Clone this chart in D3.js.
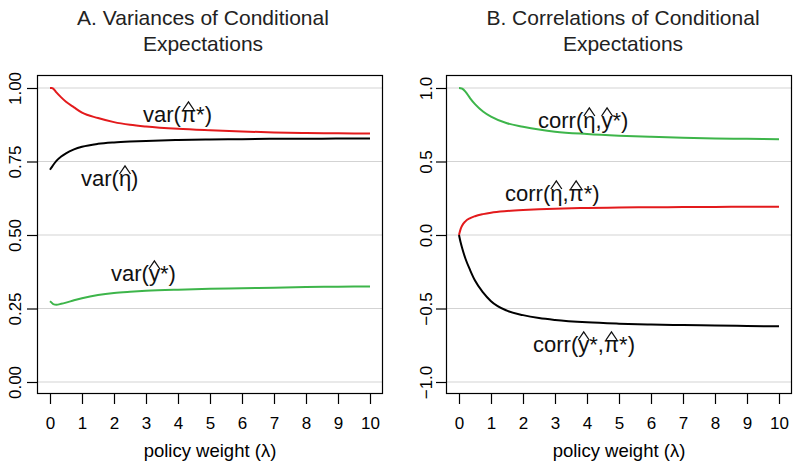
<!DOCTYPE html>
<html>
<head>
<meta charset="utf-8">
<script src="https://cdn.jsdelivr.net/npm/d3@7"></script>
<style>
  body { margin: 0; background: #fff; }
  svg { font-family: "Liberation Sans", Arial, Helvetica, sans-serif; }
</style>
</head>
<body>
<svg width="793" height="466"></svg>
<script>
// policy weight (lambda) grid where the curves were read
var lambda = [0, 0.05, 0.1, 0.2, 0.35, 0.5, 0.75, 1, 1.5, 2, 2.5, 3, 4, 5, 6, 7, 8, 9, 10];

// Panel A: variances
var varPi  = [1.0, 1.0, 0.998, 0.985, 0.968, 0.953, 0.934, 0.916, 0.898, 0.884, 0.875, 0.869, 0.861, 0.856, 0.852, 0.849, 0.847, 0.846, 0.845];
var varEta = [0.722, 0.730, 0.738, 0.752, 0.767, 0.778, 0.791, 0.800, 0.810, 0.815, 0.818, 0.820, 0.823, 0.825, 0.826, 0.827, 0.827, 0.828, 0.828];
var varY   = [0.275, 0.270, 0.265, 0.263, 0.266, 0.270, 0.278, 0.285, 0.296, 0.303, 0.307, 0.310, 0.314, 0.317, 0.319, 0.321, 0.323, 0.324, 0.325];

// Panel B: correlations
var corrEtaY  = [1.0, 0.999, 0.995, 0.975, 0.930, 0.890, 0.840, 0.805, 0.760, 0.737, 0.718, 0.703, 0.687, 0.676, 0.668, 0.662, 0.657, 0.654, 0.651];
var corrEtaPi = [0, 0.040, 0.065, 0.093, 0.115, 0.128, 0.142, 0.152, 0.163, 0.170, 0.175, 0.179, 0.184, 0.187, 0.189, 0.190, 0.191, 0.192, 0.193];
var corrYPi   = [0, -0.05, -0.09, -0.16, -0.24, -0.31, -0.39, -0.45, -0.515, -0.545, -0.565, -0.578, -0.594, -0.603, -0.609, -0.613, -0.616, -0.619, -0.621];

var xTicks = [0, 1, 2, 3, 4, 5, 6, 7, 8, 9, 10];
var yTicksA = [0, 0.25, 0.5, 0.75, 1];
var yTickLabelsA = ["0.00", "0.25", "0.50", "0.75", "1.00"];
var yTicksB = [-1, -0.5, 0, 0.5, 1];
var yTickLabelsB = ["\u22121.0", "\u22120.5", "0.0", "0.5", "1.0"];

var RED = "#e31a1c", GREEN = "#3db54a", BLACK = "#000";

var svg = d3.select("svg");

function panel(opt) {
  var x = d3.scaleLinear().domain([0, 10]).range([opt.x0, opt.x0 + 320]);
  var y = d3.scaleLinear().domain(opt.yDomain).range([382, 88]);
  var g = svg.append("g");

  // grid
  g.selectAll("line.grid").data(opt.yTicks).enter().append("line")
    .attr("x1", opt.boxL).attr("x2", opt.boxL + 346)
    .attr("y1", function(d) { return y(d); }).attr("y2", function(d) { return y(d); })
    .attr("stroke", "#d3d3d3").attr("stroke-width", 1);

  // box
  g.append("rect").attr("x", opt.boxL + 0.5).attr("y", 75.5)
    .attr("width", 345).attr("height", 318)
    .attr("fill", "none").attr("stroke", "#000").attr("stroke-width", 1.2);

  // x axis
  var xa = g.append("g").attr("transform", "translate(0,394)")
    .call(d3.axisBottom(x).tickValues(xTicks).tickSize(10).tickPadding(6).tickFormat(d3.format("d")));
  xa.select(".domain").remove();
  xa.selectAll("line").attr("stroke-width", 1.2);
  xa.selectAll("text").attr("font-size", 17).attr("font-family", null).attr("dy", null).attr("y", 35);

  // y axis
  var ya = g.append("g").attr("transform", "translate(" + opt.boxL + ",0)")
    .call(d3.axisLeft(y).tickValues(opt.yTicks).tickSize(10)
      .tickFormat(function(d, i) { return opt.yLabels[i]; }));
  ya.select(".domain").remove();
  ya.selectAll("line").attr("stroke-width", 1.2);
  ya.selectAll("text")
    .attr("font-size", 17).attr("font-family", null)
    .attr("x", null).attr("dy", null)
    .attr("text-anchor", "middle")
    .attr("transform", "translate(" + (opt.yLabelX - opt.boxL) + ",0) rotate(-90)");

  // axis title
  g.append("text").attr("x", opt.x0 + 160).attr("y", 457)
    .attr("text-anchor", "middle").attr("font-size", 18.5)
    .text("policy weight (\u03bb)");

  // titles
  g.selectAll("text.title").data(opt.title).enter().append("text")
    .attr("x", opt.titleX).attr("y", function(d, i) { return 25 + i * 26; })
    .attr("text-anchor", "middle").attr("font-size", 21).attr("fill", "#222")
    .text(function(d) { return d; });

  // curves
  var line = d3.line()
    .x(function(d) { return x(d[0]); })
    .y(function(d) { return y(d[1]); })
    .curve(d3.curveMonotoneX);
  opt.series.forEach(function(s) {
    g.append("path")
      .datum(lambda.map(function(l, i) { return [l, s.values[i]]; }))
      .attr("fill", "none").attr("stroke", s.color).attr("stroke-width", 2)
      .attr("d", line);
  });

  // curve labels with hats
  opt.labels.forEach(function(lb) { hatLabel(g, lb.x, lb.y, lb.parts); });
}

// parts: list of [text, hasHat]
function hatLabel(g, x, y, parts) {
  var t = g.append("text").attr("x", x).attr("y", y).attr("font-size", 22).attr("fill", "#111");
  var str = "", hats = [];
  parts.forEach(function(p) {
    if (p[1]) hats.push(str.length);
    str += p[0];
  });
  t.text(str);
  var node = t.node();
  hats.forEach(function(idx) {
    var a = node.getStartPositionOfChar(idx).x;
    var b = node.getEndPositionOfChar(idx).x;
    var c = (a + b) / 2, w = 5.5;
    g.append("path")
      .attr("d", "M" + (c - w) + "," + (y - 12) + "L" + c + "," + (y - 20) + "L" + (c + w) + "," + (y - 12))
      .attr("fill", "none").attr("stroke", "#111").attr("stroke-width", 1.3);
  });
}

panel({
  x0: 50, boxL: 37, yLabelX: 21, titleX: 203,
  yDomain: [0, 1], yTicks: yTicksA, yLabels: yTickLabelsA,
  title: ["A. Variances of Conditional", "Expectations"],
  series: [
    { values: varPi, color: RED },
    { values: varEta, color: BLACK },
    { values: varY, color: GREEN }
  ],
  labels: [
    { x: 143, y: 122, parts: [["var("], ["\u03c0", true], ["*)"]] },
    { x: 81, y: 186, parts: [["var("], ["\u03b7", true], [")"]] },
    { x: 111, y: 281, parts: [["var("], ["y", true], ["*)"]] }
  ]
});

panel({
  x0: 459, boxL: 446, yLabelX: 432, titleX: 623,
  yDomain: [-1, 1], yTicks: yTicksB, yLabels: yTickLabelsB,
  title: ["B. Correlations of Conditional", "Expectations"],
  series: [
    { values: corrEtaY, color: GREEN },
    { values: corrEtaPi, color: RED },
    { values: corrYPi, color: BLACK }
  ],
  labels: [
    { x: 538, y: 128, parts: [["corr("], ["\u03b7", true], [","], ["y", true], ["*)"]] },
    { x: 505, y: 201, parts: [["corr("], ["\u03b7", true], [","], ["\u03c0", true], ["*)"]] },
    { x: 533, y: 352, parts: [["corr("], ["y", true], ["*,"], ["\u03c0", true], ["*)"]] }
  ]
});
</script>
</body>
</html>
